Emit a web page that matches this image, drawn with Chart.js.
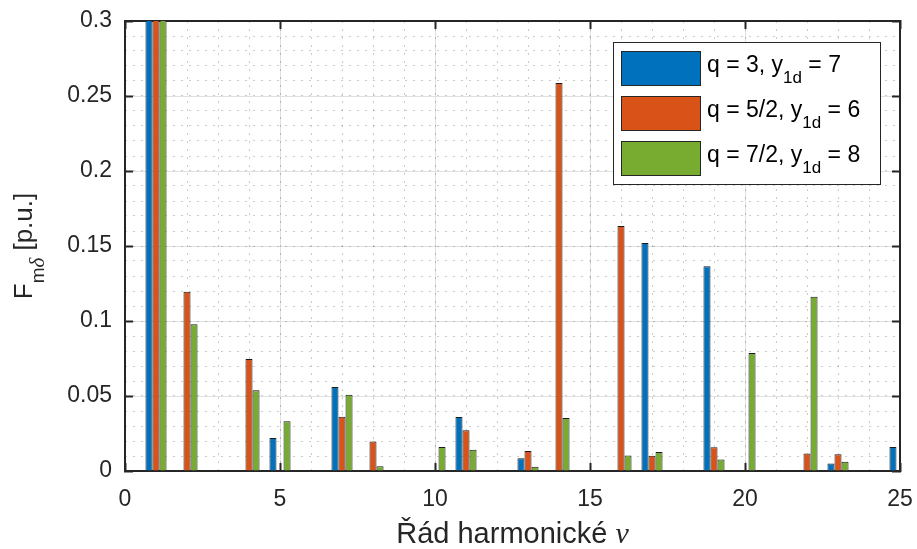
<!DOCTYPE html>
<html>
<head>
<meta charset="utf-8">
<script src="https://cdn.jsdelivr.net/npm/chart.js@4.4.1/dist/chart.umd.min.js"></script>
<style>
  html, body { margin: 0; padding: 0; background: #fff; }
</style>
</head>
<body>
<canvas id="harmChart" width="917" height="549"></canvas>
<script>
// harmonic orders 1..25
const harmonics = [1, 2, 3, 4, 5, 6, 7, 8, 9, 10, 11, 12, 13, 14, 15, 16, 17, 18, 19, 20, 21, 22, 23, 24, 25];

// F_m delta [p.u.] (fundamental is cut off at 0.3)
const seriesQ3 = [1, 0, 0, 0, 0.022, 0, 0.056, 0, 0, 0, 0.036, 0, 0.0085, 0, 0, 0, 0.152, 0, 0.1365, 0, 0, 0, 0.005, 0, 0.016];
const seriesQ52 = [1, 0.1195, 0, 0.0747, 0, 0, 0.0362, 0.0196, 0, 0, 0.0271, 0, 0.0133, 0.2587, 0, 0.1633, 0.0102, 0, 0.0158, 0, 0, 0.0116, 0.0111, 0, 0];
const seriesQ72 = [1, 0.0978, 0, 0.0538, 0.0331, 0, 0.0509, 0.0031, 0, 0.016, 0.0142, 0, 0.0029, 0.0353, 0, 0.0104, 0.0127, 0, 0.0076, 0.0787, 0, 0.1162, 0.0062, 0, 0];

// legend text: [before subscript, subscript, after]
const seriesLabels = [
  ['q = 3, y', '1d', ' = 7'],
  ['q = 5/2, y', '1d', ' = 6'],
  ['q = 7/2, y', '1d', ' = 8']
];
const seriesColors = ['#0072BD', '#D95319', '#77AC30'];

const xTickLabels = ['0', '5', '10', '15', '20', '25'];
const yTickLabels = ['0', '0.05', '0.1', '0.15', '0.2', '0.25', '0.3'];

const axisColor = '#262626';
const fontFam = '"Liberation Sans", Arial, sans-serif';
const mathFont = '"Liberation Serif", serif';

Chart.defaults.font.family = fontFam;
Chart.defaults.font.size = 23;
Chart.defaults.color = axisColor;

function toPoints(values) {
  return harmonics.map((h, i) => ({ x: h, y: values[i] }));
}

const allSeries = [seriesQ3, seriesQ52, seriesQ72];
const datasets = allSeries.map((s, i) => ({
  label: seriesLabels[i].join(''),
  data: toPoints(s),
  xAxisID: 'x',
  yAxisID: 'y',
  backgroundColor: seriesColors[i],
  borderColor: '#1a1a1a',
  borderWidth: 1,
  categoryPercentage: 0.68,
  barPercentage: 1.0,
  clip: 0
}));

// draws a run of [text, font, dy] pieces, returns total width
function drawRun(ctx, parts, x, y, measureOnly) {
  let w = 0;
  parts.forEach(p => {
    ctx.font = p[1];
    if (!measureOnly) ctx.fillText(p[0], x + w, y + p[2]);
    w += ctx.measureText(p[0]).width;
  });
  return w;
}

// axis titles and legend (need subscripts / italic, so drawn by hand)
const textPlugin = {
  id: 'textPlugin',
  afterDatasetsDraw(chart) {
    const ctx = chart.ctx;
    const area = chart.chartArea;
    ctx.save();

    // legend box
    const bx = area.right - 287, by = area.top + 21, bw = 267, bh = 142;
    ctx.fillStyle = '#fff';
    ctx.fillRect(bx, by, bw, bh);
    ctx.strokeStyle = axisColor;
    ctx.lineWidth = 1;
    ctx.strokeRect(bx + 0.5, by + 0.5, bw, bh);
    seriesLabels.forEach((lab, i) => {
      const rowY = by + 9 + i * 45;
      ctx.fillStyle = seriesColors[i];
      ctx.fillRect(bx + 8, rowY, 80, 35);
      ctx.strokeStyle = axisColor;
      ctx.strokeRect(bx + 8.5, rowY + 0.5, 79, 34);
      ctx.fillStyle = '#000';
      ctx.textBaseline = 'alphabetic';
      ctx.textAlign = 'left';
      drawRun(ctx, [
        [lab[0], '23px ' + fontFam, 0],
        [lab[1], '17px ' + fontFam, 11],
        [lab[2], '23px ' + fontFam, 0]
      ], bx + 94, rowY + 21);
    });
    ctx.restore();
  },
  afterDraw(chart) {
    const ctx = chart.ctx;
    const area = chart.chartArea;
    ctx.save();
    ctx.fillStyle = axisColor;
    ctx.textBaseline = 'alphabetic';
    ctx.textAlign = 'left';

    // x title: "Řád harmonické ν"
    const xParts = [['Řád harmonické ', '29px ' + fontFam, 0], ['ν', 'italic 30px ' + mathFont, 0]];
    const wx = drawRun(ctx, xParts, 0, 0, true);
    drawRun(ctx, xParts, (area.left + area.right) / 2 - wx / 2, 543);

    // y title: "F_mδ [p.u.]"
    const yParts = [
      ['F', '26px ' + fontFam, 0],
      ['m', '19px ' + fontFam, 12],
      ['δ', 'italic 21px ' + mathFont, 12],
      [' [p.u.]', '26px ' + fontFam, 0]
    ];
    const wy = drawRun(ctx, yParts, 0, 0, true);
    ctx.translate(32, (area.top + area.bottom) / 2);
    ctx.rotate(-Math.PI / 2);
    drawRun(ctx, yParts, -wy / 2, 0);
    ctx.restore();
  }
};

const majorGrid = '#e1e1e1';
const minorGrid = 'rgba(0,0,0,0.2)';

function fixH(h) {
  return s => { s.height = h; s.paddingLeft = 0; s.paddingRight = 0; s.paddingTop = 0; s.paddingBottom = 0; };
}
function fixW(w) {
  return s => { s.width = w; s.paddingLeft = 0; s.paddingRight = 0; s.paddingTop = 0; s.paddingBottom = 0; };
}

new Chart(document.getElementById('harmChart'), {
  type: 'bar',
  data: { datasets: datasets },
  options: {
    responsive: false,
    animation: false,
    layout: { padding: { top: 21, right: 17, left: 0, bottom: 0 } },
    plugins: { legend: { display: false }, tooltip: { enabled: false } },
    scales: {
      x: {
        type: 'linear', position: 'bottom', min: 0, max: 25, offset: false,
        ticks: {
          stepSize: 5, padding: 23, maxRotation: 0,
          callback: v => xTickLabels[Math.round(v / 5)]
        },
        grid: { color: majorGrid, lineWidth: 1, tickLength: -8, tickColor: axisColor, tickWidth: 2, offset: false },
        border: { color: axisColor, width: 2 },
        afterFit: fixH(78)
      },
      y: {
        type: 'linear', position: 'left', min: 0, max: 0.3,
        ticks: {
          stepSize: 0.05, padding: 21,
          callback: v => yTickLabels[Math.round(v / 0.05)]
        },
        grid: { color: majorGrid, lineWidth: 1, tickLength: -8, tickColor: axisColor, tickWidth: 2 },
        border: { color: axisColor, width: 2 },
        afterFit: fixW(125)
      },
      xMinor: {
        type: 'linear', position: 'bottom', min: 0, max: 25, offset: false,
        ticks: { display: false, stepSize: 1 },
        grid: { color: minorGrid, lineWidth: 1, drawTicks: false, offset: false },
        border: { display: false, dash: [2, 6] },
        afterFit: fixH(0)
      },
      yMinor: {
        type: 'linear', position: 'left', min: 0, max: 0.3,
        ticks: { display: false, stepSize: 0.01 },
        grid: { color: minorGrid, lineWidth: 1, drawTicks: false },
        border: { display: false, dash: [2, 6] },
        afterFit: fixW(0)
      },
      x2: {
        type: 'linear', position: 'top', min: 0, max: 25, offset: false,
        ticks: { display: false, stepSize: 5 },
        grid: { drawOnChartArea: false, tickLength: -8, tickColor: axisColor, tickWidth: 2, offset: false },
        border: { color: axisColor, width: 2 },
        afterFit: fixH(0)
      },
      y2: {
        type: 'linear', position: 'right', min: 0, max: 0.3,
        ticks: { display: false, stepSize: 0.05 },
        grid: { drawOnChartArea: false, tickLength: -8, tickColor: axisColor, tickWidth: 2 },
        border: { color: axisColor, width: 2 },
        afterFit: fixW(0)
      }
    }
  },
  plugins: [textPlugin]
});
</script>
</body>
</html>
